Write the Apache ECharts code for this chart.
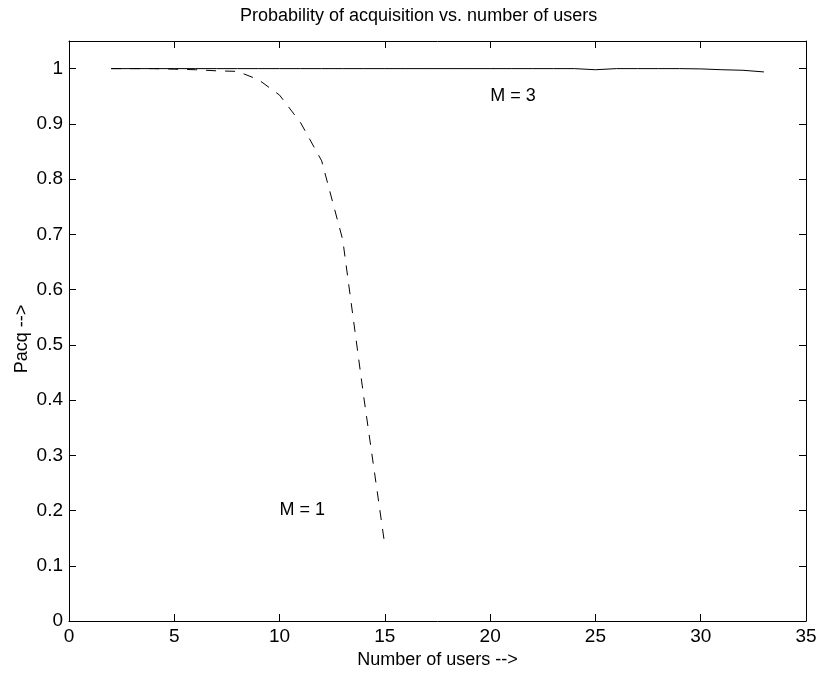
<!DOCTYPE html>
<html>
<head>
<meta charset="utf-8">
<script src="https://cdn.jsdelivr.net/npm/echarts@6/dist/echarts.min.js"></script>
<style>
html,body{margin:0;padding:0;background:#fff;}
#chart{width:820px;height:674px;}
</style>
</head>
<body>
<div id="chart"></div>
<script>
// ---- data ----
const usersM1 = [2, 3, 4, 5, 6, 7, 8, 9, 10, 11, 12, 13, 14, 15];
const pacqM1  = [1.0, 1.0, 1.0, 0.999, 0.998, 0.996, 0.995, 0.98, 0.952, 0.902, 0.833, 0.69, 0.405, 0.137];
const usersM3 = [2, 3, 4, 5, 6, 7, 8, 9, 10, 11, 12, 13, 14, 15, 16, 17, 18, 19, 20, 21, 22, 23, 24, 25, 26, 27, 28, 29, 30, 31, 32, 33];
const pacqM3  = [1, 1, 1, 1, 1, 1, 1, 1, 1, 1, 1, 1, 1, 1, 1, 1, 1, 1, 1, 1, 1, 1, 1, 0.998, 1, 1, 1, 1, 0.9995, 0.998, 0.997, 0.994];
const annotX = [20, 10];
const annotY = [0.95, 0.2];
const annotText = ['M = 3', 'M = 1'];
const xTicks = [0, 5, 10, 15, 20, 25, 30, 35];
const yTicks = [0, 0.1, 0.2, 0.3, 0.4, 0.5, 0.6, 0.7, 0.8, 0.9, 1];
const titleText = 'Probability of acquisition vs. number of users';
const xName = 'Number of users -->';
const yName = 'Pacq -->';

const FONT = '"Liberation Sans", Arial, Helvetica, sans-serif';
const FS = 18;
const TFS = 19;

function zip(a, b) { return a.map((v, i) => [v, b[i]]); }

const chart = echarts.init(document.getElementById('chart'), null, {renderer: 'canvas'});

const axisLine = {show: true, onZero: false, lineStyle: {color: '#000', width: 1}};
const axisTick = {show: true, inside: true, length: 7, lineStyle: {color: '#000', width: 1}};

function yFmt(v) {
  const r = Math.round(v * 10) / 10;
  if (Math.abs(v - r) > 1e-6 || v > 1.0001) return '';
  return r === 0 ? '0' : (r === 1 ? '1' : String(r));
}

const option = {
  backgroundColor: '#fff',
  animation: false,
  title: {
    text: titleText,
    left: 235,
    top: 2,
    textStyle: {fontFamily: FONT, fontSize: FS, fontWeight: 'normal', color: '#000'}
  },
  grid: {left: 69, right: 14, top: 41, bottom: 52, containLabel: false},
  xAxis: [
    {
      type: 'value', min: xTicks[0], max: xTicks[xTicks.length - 1], interval: 5,
      position: 'bottom',
      name: xName, nameLocation: 'middle', nameGap: 30, nameMoveOverlap: false,
      nameTextStyle: {fontFamily: FONT, fontSize: FS, color: '#000'},
      axisLine: axisLine, axisTick: axisTick,
      axisLabel: {fontFamily: FONT, fontSize: TFS, color: '#000', margin: 6, showMinLabel: true, showMaxLabel: true},
      splitLine: {show: false}
    },
    {
      type: 'value', min: xTicks[0], max: xTicks[xTicks.length - 1], interval: 5,
      position: 'top',
      axisLine: axisLine, axisTick: axisTick,
      axisLabel: {show: false}, splitLine: {show: false}
    }
  ],
  yAxis: [
    {
      type: 'value', min: 0, max: 1.05, interval: 0.1,
      position: 'left',
      name: yName, nameLocation: 'middle', nameGap: 38, nameRotate: 90, nameMoveOverlap: false,
      nameTextStyle: {fontFamily: FONT, fontSize: FS, color: '#000', padding: [0, 16, 0, 0]},
      axisLine: axisLine, axisTick: axisTick,
      axisLabel: {fontFamily: FONT, fontSize: TFS, color: '#000', margin: 6, formatter: yFmt},
      splitLine: {show: false}
    },
    {
      type: 'value', min: 0, max: 1.05, interval: 0.1,
      position: 'right',
      axisLine: axisLine, axisTick: axisTick,
      axisLabel: {show: false}, splitLine: {show: false}
    }
  ],
  series: [
    {
      name: 'M = 3', type: 'line', data: zip(usersM3, pacqM3),
      showSymbol: false, symbol: 'none',
      lineStyle: {color: '#000', width: 1, type: 'solid'}
    },
    {
      name: 'M = 1', type: 'line', data: zip(usersM1, pacqM1),
      showSymbol: false, symbol: 'none',
      lineStyle: {color: '#000', width: 1, type: [10, 9]}
    },
    {
      name: 'annotations', type: 'scatter', symbolSize: 0,
      data: annotX.map((x, i) => ({value: [x, annotY[i]], name: annotText[i]})),
      label: {
        show: true, position: 'right', distance: 0,
        formatter: p => p.name,
        fontFamily: FONT, fontSize: FS, color: '#000'
      },
      itemStyle: {opacity: 1},
      silent: true
    }
  ]
};
chart.setOption(option);
</script>
</body>
</html>
